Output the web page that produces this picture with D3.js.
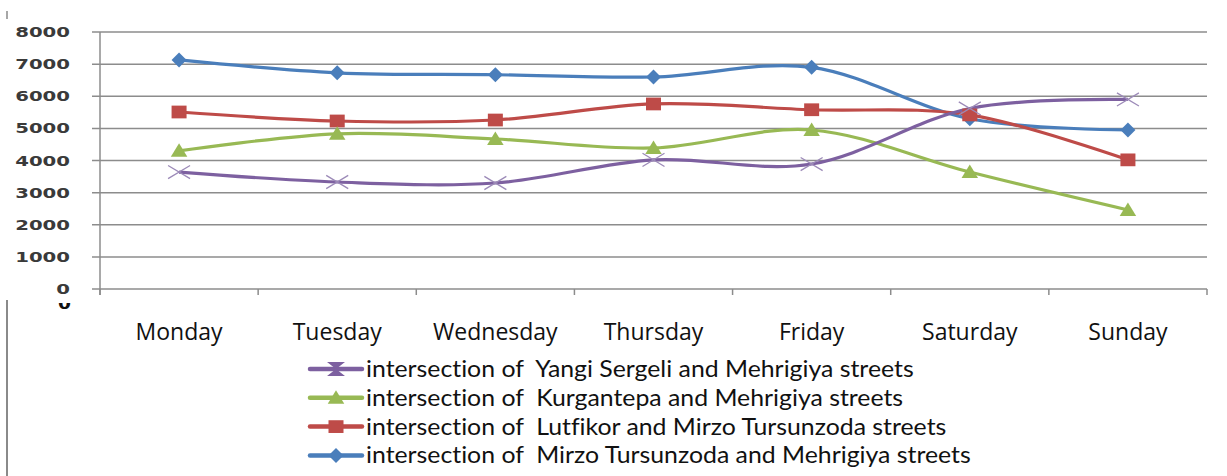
<!DOCTYPE html>
<html>
<head>
<meta charset="utf-8">
<script src="https://cdn.jsdelivr.net/npm/d3@7"></script>
<style>
  body { margin: 0; background: #fff; }
  svg { display: block; }
  text { white-space: pre; font-variant-ligatures: none; }
</style>
</head>
<body>
<script>
const days = ["Monday", "Tuesday", "Wednesday", "Thursday", "Friday", "Saturday", "Sunday"];
const yTicks = [0, 1000, 2000, 3000, 4000, 5000, 6000, 7000, 8000];

const mirzoMehrigiya = [7130, 6730, 6670, 6600, 6900, 5300, 4950];
const lutfikorMirzo = [5510, 5230, 5260, 5760, 5580, 5420, 4020];
const kurgantepaMehrigiya = [4300, 4830, 4670, 4390, 4950, 3640, 2460];
const yangiSergeliMehrigiya = [3640, 3330, 3300, 4020, 3890, 5620, 5900];

const seriesNames = [
  "intersection of  Yangi Sergeli and Mehrigiya streets",
  "intersection of  Kurgantepa and Mehrigiya streets",
  "intersection of  Lutfikor and Mirzo Tursunzoda streets",
  "intersection of  Mirzo Tursunzoda and Mehrigiya streets"
];

// drawing order: blue, red, green, purple
const series = [
  { name: seriesNames[3], values: mirzoMehrigiya, color: "#4a7ebb", marker: "diamond" },
  { name: seriesNames[2], values: lutfikorMirzo, color: "#be4b48", marker: "square" },
  { name: seriesNames[1], values: kurgantepaMehrigiya, color: "#98b954", marker: "triangle" },
  { name: seriesNames[0], values: yangiSergeliMehrigiya, color: "#7d60a0", marker: "x" }
];

const width = 1227, height = 476;
const svg = d3.select("body").append("svg")
  .attr("width", width)
  .attr("height", height);

const x = d3.scaleBand().domain(days).range([100, 1207]);
const y = d3.scaleLinear().domain([0, 8000]).range([289, 32]);
const cx = d => x(d) + x.bandwidth() / 2;

// frame remnants at left edge
svg.append("line").attr("x1", 7).attr("x2", 7).attr("y1", 300).attr("y2", 476)
  .attr("stroke", "#8a8a8a").attr("stroke-width", 2);
svg.append("line").attr("x1", 7).attr("x2", 7).attr("y1", 11).attr("y2", 19)
  .attr("stroke", "#8a8a8a").attr("stroke-width", 1.5);

// gridlines
svg.append("g").selectAll("line").data(yTicks).join("line")
  .attr("x1", 92).attr("x2", 1207)
  .attr("y1", d => y(d)).attr("y2", d => y(d))
  .attr("stroke", "#8c8c8c").attr("stroke-width", 1.5);

// vertical axis line
svg.append("line").attr("x1", 100).attr("x2", 100).attr("y1", y(8000)).attr("y2", 295)
  .attr("stroke", "#8c8c8c").attr("stroke-width", 1.5);

// category tick marks
const bounds = days.map(d => x(d)).concat([x.range()[1]]);
svg.append("g").selectAll("line").data(bounds).join("line")
  .attr("x1", d => d).attr("x2", d => d)
  .attr("y1", y(0)).attr("y2", 295)
  .attr("stroke", "#8c8c8c").attr("stroke-width", 1.5);

// y labels (wide, stretched)
svg.append("g").selectAll("text").data(yTicks).join("text")
  .attr("x", 70).attr("y", d => y(d) + 5)
  .attr("text-anchor", "end")
  .attr("font-family", "DejaVu Sans")
  .attr("font-size", 14)
  .attr("font-weight", 600)
  .attr("fill", "#3a3a3a")
  .attr("textLength", d => String(d).length * 13.7)
  .attr("lengthAdjust", "spacingAndGlyphs")
  .text(d => d);

// clipped duplicate "0" below the axis
svg.append("clipPath").attr("id", "zclip")
  .append("rect").attr("x", 50).attr("y", 303).attr("width", 40).attr("height", 20);
svg.append("text")
  .attr("clip-path", "url(#zclip)")
  .attr("x", 71).attr("y", 309)
  .attr("text-anchor", "end")
  .attr("font-family", "DejaVu Sans")
  .attr("font-size", 15)
  .attr("font-weight", 600)
  .attr("textLength", 13)
  .attr("lengthAdjust", "spacingAndGlyphs")
  .attr("fill", "#111")
  .text(0);

// x labels
svg.append("g").selectAll("text").data(days).join("text")
  .attr("x", d => cx(d)).attr("y", 340)
  .attr("text-anchor", "middle")
  .attr("font-family", "Open Sans")
  .attr("font-size", 23)
  .attr("fill", "#111")
  .text(d => d);

const line = d3.line()
  .x((v, i) => cx(days[i]))
  .y(v => y(v))
  .curve(d3.curveCardinal.tension(0));

function drawMarker(g, type, color, px, py, s) {
  if (type === "diamond") {
    g.append("path")
      .attr("d", `M${px},${py - s}L${px + s},${py}L${px},${py + s}L${px - s},${py}Z`)
      .attr("fill", color);
  } else if (type === "square") {
    g.append("rect")
      .attr("x", px - s).attr("y", py - s * 0.85)
      .attr("width", s * 2).attr("height", s * 1.7)
      .attr("fill", color);
  } else if (type === "triangle") {
    g.append("path")
      .attr("d", `M${px},${py - s}L${px + s * 1.1},${py + s * 0.8}L${px - s * 1.1},${py + s * 0.8}Z`)
      .attr("fill", color);
  } else {
    g.append("path")
      .attr("d", `M${px - s},${py - s * 0.6}L${px + s},${py + s * 0.6}M${px + s},${py - s * 0.6}L${px - s},${py + s * 0.6}`)
      .attr("stroke", "#9c8ab8").attr("stroke-width", 1.3).attr("fill", "none");
  }
}

const plot = svg.append("g");
series.forEach(s => {
  plot.append("path")
    .attr("d", line(s.values))
    .attr("fill", "none")
    .attr("stroke", s.color)
    .attr("stroke-width", 3.2);
});
series.forEach(s => {
  const g = plot.append("g");
  s.values.forEach((v, i) => {
    drawMarker(g, s.marker, s.color, cx(days[i]), y(v), s.marker === "x" ? 11 : 7.5);
  });
});

// legend: purple, green, red, blue
const legendItems = series.slice().reverse();
const legend = svg.append("g");
const legendTexts = [];
legendItems.forEach((s, i) => {
  const ly = 369 + i * 28.8;
  const g = legend.append("g");
  g.append("line").attr("x1", 310).attr("x2", 362).attr("y1", ly).attr("y2", ly)
    .attr("stroke", s.color).attr("stroke-width", 4.5).attr("stroke-linecap", "round");
  if (s.marker === "x") {
    g.append("path")
      .attr("d", `M327,${ly - 7}L345,${ly - 7}L336,${ly}L345,${ly + 7}L327,${ly + 7}L336,${ly}Z`)
      .attr("fill", s.color);
  } else {
    drawMarker(g, s.marker, s.color, 336, ly, 7.5);
  }
  legendTexts.push(g.append("text")
    .attr("data-y", ly + 8)
    .attr("font-family", "Lato")
    .attr("font-size", 23)
    .attr("fill", "#111")
    .text(s.name));
});
// stretch legend text horizontally to the reference's wide lettering
const k = 548 / legendTexts[0].node().getComputedTextLength();
legendTexts.forEach(t => {
  t.attr("transform", `translate(366,${t.attr("data-y")}) scale(${k},1)`);
});
</script>
</body>
</html>
